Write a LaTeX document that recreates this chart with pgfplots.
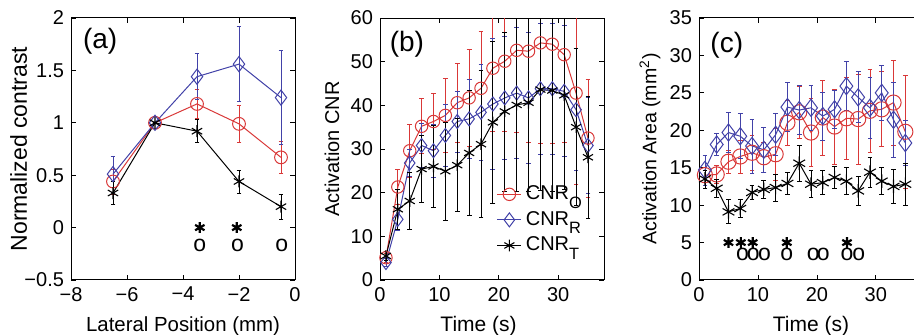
\documentclass[border=0pt]{standalone}
\usepackage{fontspec}
\setmainfont{Liberation Sans}
\usepackage{pgfplots}
\usepackage{pgfplotstable}
\pgfplotsset{compat=1.18}

\definecolor{myred}{rgb}{0.85,0.22,0.22}
\definecolor{myblue}{rgb}{0.26,0.26,0.66}

\pgfplotstableread{
x     ro    roe   rb    rbe   k     ke
-6.5  0.44  0.12  0.51  0.17  0.33  0.11
-5    1.00  0.00  1.00  0.00  1.00  0.00
-3.5  1.18  0.14  1.44  0.22  0.92  0.11
-2    0.99  0.18  1.56  0.36  0.44  0.11
-0.5  0.67  0.15  1.24  0.45  0.20  0.12
}\tablea

\pgfplotstableread{
x   ro    roe   rb    rbe   k     ke
1   5.1   1.0   4.0   1.0   5.5   1.0
3   21.3  4.0   13.9  2.5   16.2  4.5
5   29.6  6.0   26.8  3.0   18.1  6.5
7   35.2  6.3   30.8  5.0   25.4  7.7
9   36.3  6.5   29.6  6.0   26.0  9.4
11  37.7  8.5   33.1  7.0   24.9  11.2
13  40.6  9.0   36.3  7.0   26.3  10.7
15  41.7  11.0  36.9  9.0   29.1  14.3
17  43.9  13.0  38.4  11.0  31.1  16.8
19  48.5  14.5  40.3  15.0  36.1  18.5
21  50.1  16.0  41.7  14.0  38.6  18.2
23  52.6  18.8  42.8  15.0  40.1  19.7
25  52.4  21.0  41.7  15.0  40.6  20.4
27  54.3  23.0  43.8  15.0  43.6  23.0
29  54.0  22.7  43.8  15.0  43.4  23.0
31  51.6  20.0  43.2  15.0  42.3  21.5
33  42.8  21.0  39.0  14.0  35.0  18.0
35  32.5  13.5  30.8  11.0  28.1  14.0
}\tableb

\pgfplotstableread{
x   ro    roe   rb    rbe   k     ke
1   14.0  1.0   14.7  2.0   13.5  1.2
3   14.1  1.2   18.1  1.5   12.25 1.2
5   15.8  1.5   19.7  2.7   9.1   1.6
7   16.5  2.2   19.2  3.0   9.55  1.2
9   17.0  2.3   17.9  3.6   11.7  1.0
11  16.4  2.0   17.4  3.0   12.1  1.2
13  16.8  3.5   19.4  2.8   12.35 1.8
15  21.0  3.0   23.1  3.3   12.9  1.5
17  22.4  3.5   22.7  3.3   15.6  2.4
19  19.7  4.5   23.0  3.0   12.8  1.8
21  21.7  5.0   21.9  3.2   13.0  1.6
23  20.5  5.0   22.8  2.5   13.7  1.5
25  21.6  5.5   25.9  3.3   13.2  1.8
27  21.5  6.0   24.4  3.4   11.9  2.0
29  22.6  5.5   23.0  4.1   14.4  2.0
31  22.8  5.0   25.0  3.7   13.2  1.8
33  23.7  5.7   21.4  5.0   12.5  2.3
35  19.8  7.5   18.3  3.0   12.8  2.8
}\tablec

\pgfplotsset{
  common/.style={
    scale only axis, width=112pt, height=131pt,
    anchor=south west,
    axis line style={line width=0.5pt},
    every tick/.style={black, line width=0.4pt},
    tick align=inside, major tick length=2.5pt,
    font=\fontsize{10}{12}\selectfont,
    tick label style={font=\fontsize{10}{12}\selectfont},
    error bars/y dir=both, error bars/y explicit,
    error bars/error mark options={rotate=90, mark size=1.2pt, line width=0.4pt},
    error bars/error bar style={line width=0.4pt},
  },
  sred/.style={color=myred, line width=0.5pt, mark=o, mark options={line width=0.5pt}},
  sblue/.style={color=myblue, line width=0.5pt, mark=diamond, mark options={line width=0.5pt}},
  sblack/.style={color=black, line width=0.5pt, mark=asterisk, mark options={line width=0.55pt}},
}

\begin{document}
\begin{tikzpicture}
\path[use as bounding box, clip] (0,0) rectangle (457pt,167.5pt);

% (a)
\begin{axis}[common, at={(35.5pt,27.5pt)},
  xmin=-8, xmax=0, ymin=-0.5, ymax=2,
  xtick={-8,-6,-4,-2,0}, xticklabels={−8,−6,−4,−2,0},
  ytick={-0.5,0,0.5,1,1.5,2}, yticklabels={−0.5,0,0.5,1,1.5,2},
  xlabel={Lateral Position (mm)}, ylabel={Normalized contrast},
  xlabel style={font=\fontsize{10.2}{12}\selectfont, at={(axis description cs:0.5,-0.196)}, anchor=base},
  ylabel style={font=\fontsize{11.5}{12}\selectfont, at={(axis description cs:-0.234,0.5)}, anchor=center},
]
\addplot+[sred, mark size=3.2pt] table[x=x, y=ro, y error=roe] {\tablea};
\addplot+[sblue, mark size=3.8pt] table[x=x, y=rb, y error=rbe] {\tablea};
\addplot+[sblack, mark size=3pt] table[x=x, y=k, y error=ke] {\tablea};
\addplot[only marks, mark=asterisk, mark size=2.7pt, line width=1.1pt, black] coordinates {(-3.4,0.0) (-2.08,0.0)};
\addplot[only marks, mark=text, text mark={\fontsize{11.5}{12}\selectfont o}] coordinates {(-3.4,-0.17) (-2.05,-0.17) (-0.47,-0.17)};
\node[font=\fontsize{14}{16}\selectfont] at (axis description cs:0.13,0.91) {(a)};
\end{axis}

% (b)
\begin{axis}[common, at={(190pt,27.5pt)},
  xmin=0, xmax=37.7, ymin=0, ymax=60,
  xtick={0,10,20,30}, xticklabels={0,10,20,30},
  ytick={0,10,20,30,40,50,60}, yticklabels={0,10,20,30,40,50,60},
  xlabel={Time (s)}, ylabel={Activation CNR},
  xlabel style={font=\fontsize{10.5}{12}\selectfont, at={(axis description cs:0.44,-0.196)}, anchor=base},
  ylabel style={font=\fontsize{10}{12}\selectfont, at={(axis description cs:-0.214,0.5)}, anchor=center},
  legend style={at={(axis description cs:0.93,0.075)}, anchor=south east, draw=none, fill=none,
    font=\fontsize{10}{12}\selectfont, row sep=0.3pt, inner sep=1pt},
  legend cell align=left,
  legend image code/.code={\draw[mark repeat=2, mark phase=2] plot coordinates {(0cm,0cm) (0.21cm,0cm) (0.42cm,0cm)};},
]
\addplot+[sred, mark size=3.1pt] table[x=x, y=ro, y error=roe] {\tableb};
\addplot+[sblue, mark size=3.5pt] table[x=x, y=rb, y error=rbe] {\tableb};
\addplot+[sblack, mark size=2.9pt] table[x=x, y=k, y error=ke] {\tableb};
\legend{CNR\raisebox{-0.42em}{\fontsize{8.2}{8}\selectfont O}, CNR\raisebox{-0.42em}{\fontsize{8.2}{8}\selectfont R}, CNR\raisebox{-0.42em}{\fontsize{8.2}{8}\selectfont T}}
\node[font=\fontsize{14}{16}\selectfont] at (axis description cs:0.12,0.90) {(b)};
\end{axis}

% (c)
\begin{axis}[common, at={(349.5pt,27.5pt)},
  xmin=0, xmax=38, ymin=0, ymax=35,
  xtick={0,10,20,30}, xticklabels={0,10,20,30},
  ytick={0,5,10,15,20,25,30,35}, yticklabels={0,5,10,15,20,25,30,35},
  xlabel={Time (s)}, ylabel={Activation Area (mm\textsuperscript{2})},
  xlabel style={font=\fontsize{10.5}{12}\selectfont, at={(axis description cs:0.5,-0.196)}, anchor=base},
  ylabel style={font=\fontsize{9.8}{12}\selectfont, at={(axis description cs:-0.219,0.5)}, anchor=center},
]
\addplot+[sred, mark size=3.8pt] table[x=x, y=ro, y error=roe] {\tablec};
\addplot+[sblue, mark size=4.3pt] table[x=x, y=rb, y error=rbe] {\tablec};
\addplot+[sblack, mark size=3.4pt] table[x=x, y=k, y error=ke] {\tablec};
\addplot[only marks, mark=asterisk, mark size=2.7pt, line width=1.1pt, black] coordinates {(5,5) (7.1,5) (9.1,5) (14.9,5) (25.1,5)};
\addplot[only marks, mark=text, text mark={\fontsize{11.5}{12}\selectfont o}] coordinates {(7.4,3.4) (9.2,3.4) (11.1,3.4) (14.9,3.4) (19.4,3.4) (21.1,3.4) (25.1,3.4) (27.1,3.4)};
\node[font=\fontsize{14}{16}\selectfont] at (axis description cs:0.124,0.897) {(c)};
\end{axis}
\end{tikzpicture}
\end{document}
